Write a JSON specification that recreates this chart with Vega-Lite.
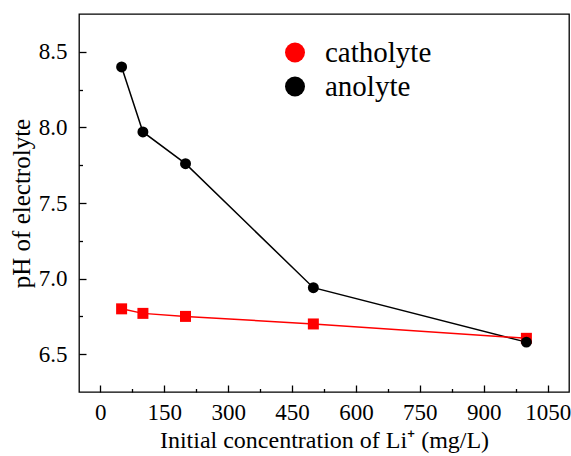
{
  "$schema": "https://vega.github.io/schema/vega-lite/v6.json",
  "width": 490,
  "height": 378,
  "autosize": {"type": "none"},
  "padding": {"left": 79, "top": 14, "right": 2, "bottom": 64},
  "background": "white",
  "config": {
    "view": {"stroke": "#000000", "strokeWidth": 1.3},
    "font": "Liberation Serif",
    "axis": {"grid": false, "domain": false, "tickColor": "#000000", "tickWidth": 1.3, "labelColor": "#000000", "titleColor": "#000000", "labelFont": "Liberation Serif", "titleFont": "Liberation Serif", "titleFontWeight": "normal"},
    "legend": {"orient": "none", "legendX": 201.5, "legendY": 24, "title": null, "padding": 0, "labelFont": "Liberation Serif", "labelFontSize": 29, "labelColor": "#000000", "labelOffset": 15.5, "symbolSize": 400, "rowPadding": 4}
  },
  "data": {
    "values": [
      {"conc": 50, "pH": 6.80, "series": "catholyte"},
      {"conc": 100, "pH": 6.77, "series": "catholyte"},
      {"conc": 200, "pH": 6.75, "series": "catholyte"},
      {"conc": 500, "pH": 6.70, "series": "catholyte"},
      {"conc": 1000, "pH": 6.605, "series": "catholyte"},
      {"conc": 50, "pH": 8.40, "series": "anolyte"},
      {"conc": 100, "pH": 7.97, "series": "anolyte"},
      {"conc": 200, "pH": 7.76, "series": "anolyte"},
      {"conc": 500, "pH": 6.94, "series": "anolyte"},
      {"conc": 1000, "pH": 6.58, "series": "anolyte"}
    ]
  },
  "resolve": {"axis": {"x": "independent", "y": "independent"}},
  "layer": [
    {
      "transform": [{"filter": "datum.series === 'anolyte'"}],
      "mark": {"type": "line", "strokeWidth": 1.5, "color": "#000000"},
      "encoding": {
        "x": {"field": "conc", "type": "quantitative", "scale": {"domain": [-50, 1100], "nice": false, "zero": false},
          "axis": {"orient": "bottom", "values": [0, 150, 300, 450, 600, 750, 900, 1050], "format": "d", "tickSize": -7, "labelPadding": 16.5, "labelFontSize": 23, "labelFlush": false, "title": "Initial concentration of Li⁺ (mg/L)", "titleFontSize": 24, "titlePadding": 4}},
        "y": {"field": "pH", "type": "quantitative", "scale": {"domain": [6.25, 8.75], "nice": false, "zero": false},
          "axis": {"orient": "left", "values": [6.5, 7.0, 7.5, 8.0, 8.5], "format": ".1f", "tickSize": -7, "labelPadding": 19, "labelFontSize": 23, "labelFlush": false, "title": "pH of electrolyte", "titleFontSize": 25, "titlePadding": 4}}
      }
    },
    {
      "transform": [{"filter": "datum.series === 'catholyte'"}],
      "mark": {"type": "line", "strokeWidth": 1.5, "color": "#ff0000"},
      "encoding": {
        "x": {"field": "conc", "type": "quantitative", "axis": null},
        "y": {"field": "pH", "type": "quantitative", "axis": null}
      }
    },
    {
      "transform": [{"filter": "datum.series === 'catholyte'"}],
      "mark": {"type": "point", "shape": "square", "filled": true, "size": 121, "opacity": 1},
      "encoding": {
        "x": {"field": "conc", "type": "quantitative",
          "axis": {"orient": "bottom", "values": [75, 225, 375, 525, 675, 825, 975], "tickSize": -3.5, "labels": false, "title": null}},
        "y": {"field": "pH", "type": "quantitative",
          "axis": {"orient": "left", "values": [6.75, 7.25, 7.75, 8.25], "tickSize": -3.5, "labels": false, "title": null}},
        "color": {"field": "series", "type": "nominal", "scale": {"domain": ["catholyte", "anolyte"], "range": ["#ff0000", "#000000"]},
          "legend": {
            "encode": {"symbols": {"update": {
              "shape": {"signal": "datum.value === 'catholyte' ? 'M-1,0H1M-0.22,-0.22H0.22V0.22H-0.22Z' : 'M-1,0H1M-0.23,0A0.23,0.23,0,1,1,0.23,0A0.23,0.23,0,1,1,-0.23,0Z'"},
              "stroke": {"signal": "datum.value === 'catholyte' ? '#ff0000' : '#000000'"},
              "size": {"value": 2704},
              "strokeWidth": {"value": 1.5},
              "opacity": {"value": 1}
            }}}}}
      }
    },
    {
      "transform": [{"filter": "datum.series === 'anolyte'"}],
      "mark": {"type": "point", "shape": "circle", "filled": true, "size": 120, "opacity": 1},
      "encoding": {
        "x": {"field": "conc", "type": "quantitative", "axis": null},
        "y": {"field": "pH", "type": "quantitative", "axis": null},
        "color": {"field": "series", "type": "nominal", "scale": {"domain": ["catholyte", "anolyte"], "range": ["#ff0000", "#000000"]},
          "legend": {
            "encode": {"symbols": {"update": {
              "shape": {"signal": "datum.value === 'catholyte' ? 'M-1,0H1M-0.22,-0.22H0.22V0.22H-0.22Z' : 'M-1,0H1M-0.23,0A0.23,0.23,0,1,1,0.23,0A0.23,0.23,0,1,1,-0.23,0Z'"},
              "stroke": {"signal": "datum.value === 'catholyte' ? '#ff0000' : '#000000'"},
              "size": {"value": 2704},
              "strokeWidth": {"value": 1.5},
              "opacity": {"value": 1}
            }}}}}
      }
    }
  ]
}
